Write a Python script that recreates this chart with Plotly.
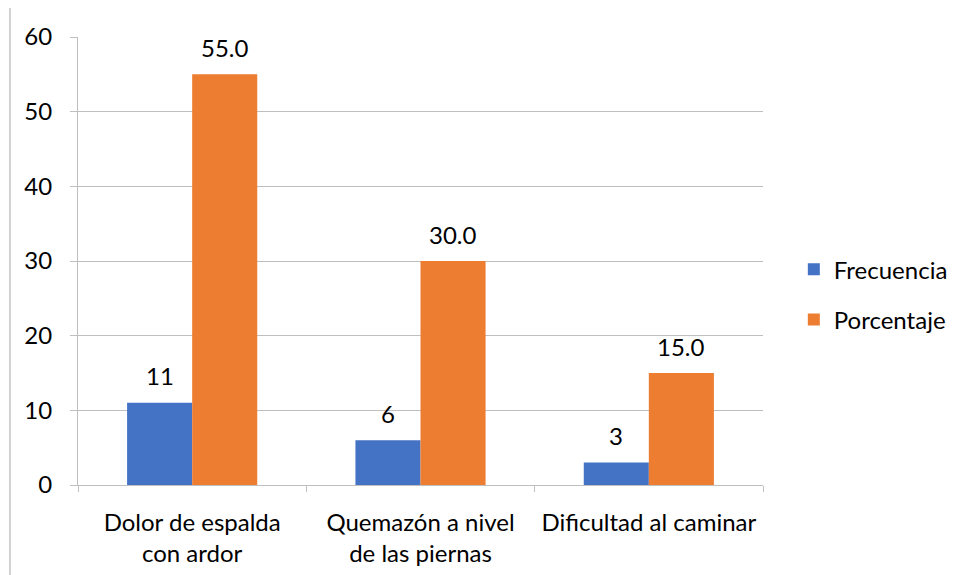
import plotly.graph_objects as go

# data
categorias = ["Dolor de espalda<br>con ardor", "Quemazón a nivel<br>de las piernas", "Dificultad al caminar"]
frecuencia = [11, 6, 3]
porcentaje = [55.0, 30.0, 15.0]
etiquetas_frec = ["11", "6", "3"]
etiquetas_porc = ["55.0", "30.0", "15.0"]

azul = "#4472C4"
naranja = "#ED7D31"
gris = "#BFBFBF"
fuente = "Lato, sans-serif"
tam = 24

fig = go.Figure()
fig.add_trace(go.Bar(x=categorias, y=frecuencia, name="Frecuencia", marker_color=azul,
                     marker_line_width=0, legendgroup="f"))
fig.add_trace(go.Bar(x=categorias, y=porcentaje, name="Porcentaje", marker_color=naranja,
                     marker_line_width=0, legendgroup="p"))

# data labels above bars
for serie, etiquetas, desplaz in [(frecuencia, etiquetas_frec, -32.5), (porcentaje, etiquetas_porc, 32.5)]:
    for cat, val, txt in zip(categorias, serie, etiquetas):
        fig.add_annotation(x=cat, y=val, text=txt, showarrow=False, xshift=desplaz,
                           yanchor="middle", yshift=27, font=dict(size=tam, color="black", family=fuente))

# chart border (Excel style), only left and top edges are visible
fig.add_shape(type="line", xref="paper", yref="paper", x0=-0.0993, x1=-0.0993, y0=-1.0, y1=1.069,
              line=dict(color="#A6A6A6", width=1), layer="below")
fig.add_shape(type="line", xref="paper", yref="paper", x0=-0.0993, x1=1.6, y0=1.069, y1=1.069,
              line=dict(color="#A6A6A6", width=1), layer="below")

fig.update_layout(
    width=951, height=567,
    margin=dict(l=70, r=196, t=29, b=90, autoexpand=False),
    paper_bgcolor="white", plot_bgcolor="white",
    barmode="group", bargap=0.43, bargroupgap=0,
    font=dict(family=fuente, size=tam, color="black"),
    showlegend=True,
    legend=dict(x=1.045, y=0.425, xanchor="left", yanchor="middle", tracegroupgap=16,
                font=dict(size=tam, family=fuente), itemwidth=30),
    xaxis=dict(type="category", tickson="boundaries", ticks="outside", ticklen=6, tickcolor=gris,
               showline=True, linecolor=gris, linewidth=1, showgrid=False, ticklabelstandoff=16,
               automargin=False),
    yaxis=dict(range=[0, 60], dtick=10, ticks="outside", ticklen=7, tickcolor=gris,
               showline=True, linecolor=gris, gridcolor=gris, gridwidth=1, zeroline=False,
               ticklabelstandoff=13, automargin=False),
)

fig.write_html("out.html")
